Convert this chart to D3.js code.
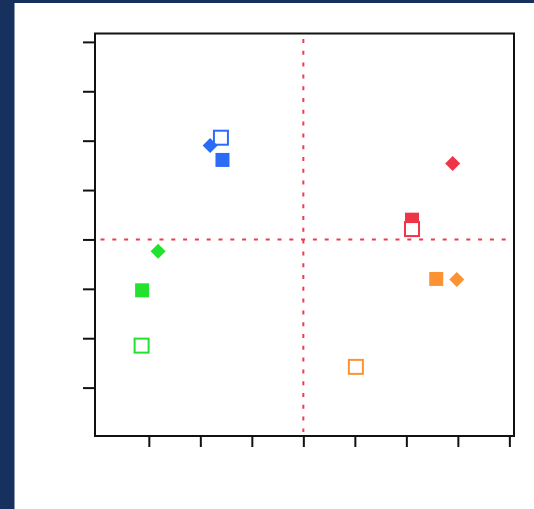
<!DOCTYPE html>
<html>
<head>
<meta charset="utf-8">
<script src="https://cdn.jsdelivr.net/npm/d3@7"></script>
<style>
  html, body { margin: 0; padding: 0; background: #fff; }
  svg { display: block; }
</style>
</head>
<body>
<div id="chart"></div>
<script>
// groups and their colours
const groups = ["blue", "red", "orange", "green"];
const colors = ["#2b6cf6", "#f03448", "#fb9334", "#22e22e"];

// diamond markers (one per group)
const diamondX = [-1.81, 2.90, 2.98, -2.82];
const diamondY = [1.90, 1.54, -0.81, -0.24];

// filled squares
const filledX = [-1.57, 2.11, 2.58, -3.13];
const filledY = [1.61, 0.40, -0.80, -1.03];

// open squares
const openX = [-1.60, 2.11, 1.02, -3.14];
const openY = [2.06, 0.21, -2.58, -2.15];

const xTicks = [-3, -2, -1, 0, 1, 2, 3, 4];
const yTicks = [-3, -2, -1, 0, 1, 2, 3, 4];

const width = 534, height = 509;
const frame = { left: 95, top: 33.5, right: 514, bottom: 436 };

const svg = d3.select("#chart").append("svg")
  .attr("width", width)
  .attr("height", height);

// navy page border
svg.append("rect").attr("x", 0).attr("y", 0).attr("width", width).attr("height", 3).attr("fill", "#17315f");
svg.append("rect").attr("x", 0).attr("y", 0).attr("width", 14.5).attr("height", height).attr("fill", "#17315f");

const x = d3.scaleLinear().domain([-4.045, 4.09]).range([frame.left, frame.right]);
const y = d3.scaleLinear().domain([-3.98, 4.17]).range([frame.bottom, frame.top]);

// axes: ticks only, no labels
const xAxis = svg.append("g")
  .attr("transform", `translate(0,${frame.bottom})`)
  .call(d3.axisBottom(x).tickValues(xTicks).tickSize(11).tickFormat(""));
const yAxis = svg.append("g")
  .attr("transform", `translate(${frame.left},0)`)
  .call(d3.axisLeft(y).tickValues(yTicks).tickSize(12).tickFormat(""));
[xAxis, yAxis].forEach(a => {
  a.select(".domain").remove();
  a.selectAll(".tick line").attr("stroke", "#111").attr("stroke-width", 2);
});

// frame
svg.append("rect")
  .attr("x", frame.left).attr("y", frame.top)
  .attr("width", frame.right - frame.left)
  .attr("height", frame.bottom - frame.top)
  .attr("fill", "none")
  .attr("stroke", "#111")
  .attr("stroke-width", 2);

// dashed reference lines at zero
svg.append("line")
  .attr("x1", frame.left + 5.5).attr("x2", frame.right - 4)
  .attr("y1", y(0)).attr("y2", y(0))
  .attr("stroke", "#f03a4e").attr("stroke-width", 2)
  .attr("stroke-dasharray", "4,7.8");
svg.append("line")
  .attr("x1", x(0)).attr("x2", x(0))
  .attr("y1", frame.top + 5.5).attr("y2", frame.bottom - 4)
  .attr("stroke", "#f03a4e").attr("stroke-width", 2)
  .attr("stroke-dasharray", "4,7.8");

const pts = svg.append("g");

// filled squares
pts.selectAll("rect.filled")
  .data(groups)
  .join("rect")
  .attr("class", "filled")
  .attr("x", (d, i) => x(filledX[i]) - 7)
  .attr("y", (d, i) => y(filledY[i]) - 7)
  .attr("width", 14).attr("height", 14)
  .attr("fill", (d, i) => colors[i]);

// open squares
pts.selectAll("rect.open")
  .data(groups)
  .join("rect")
  .attr("class", "open")
  .attr("x", (d, i) => x(openX[i]) - 7)
  .attr("y", (d, i) => y(openY[i]) - 7)
  .attr("width", 14).attr("height", 14)
  .attr("fill", "#fff")
  .attr("stroke", (d, i) => colors[i])
  .attr("stroke-width", 2);

// diamonds
pts.selectAll("path.diamond")
  .data(groups)
  .join("path")
  .attr("class", "diamond")
  .attr("d", "M0,-7.5L7.5,0L0,7.5L-7.5,0Z")
  .attr("transform", (d, i) => `translate(${x(diamondX[i])},${y(diamondY[i])})`)
  .attr("fill", (d, i) => colors[i]);
</script>
</body>
</html>
